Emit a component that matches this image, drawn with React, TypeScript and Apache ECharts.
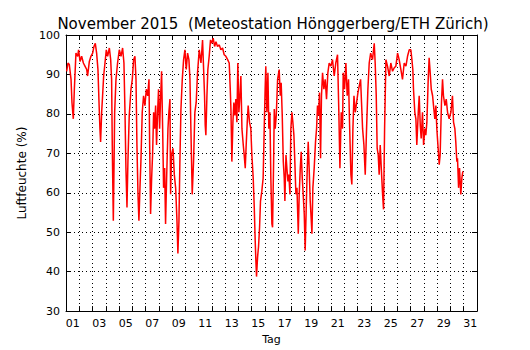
import React, { useEffect, useRef } from "react";
import * as echarts from "echarts";

const dayLabels: string[] = Array.from({ length: 31 }, (_, i) => String(i + 1).padStart(2, "0"));

// time in days since 1 Nov 2015 00:00
const timeDays: number[] = [
  0.05, 0.15, 0.25, 0.38, 0.45, 0.55, 0.63, 0.75, 0.88, 0.95,
  1.06, 1.18, 1.31, 1.43, 1.56, 1.63, 1.76, 1.88, 2.01, 2.11,
  2.21, 2.31, 2.41, 2.49, 2.56, 2.61, 2.69, 2.76, 2.84, 2.94,
  3.04, 3.14, 3.27, 3.37, 3.44, 3.49, 3.54, 3.57, 3.62, 3.67,
  3.77, 3.89, 4.02, 4.15, 4.27, 4.37, 4.45, 4.52, 4.6, 4.67,
  4.77, 4.9, 5.0, 5.1, 5.2, 5.28, 5.35, 5.43, 5.5, 5.58,
  5.65, 5.75, 5.85, 5.95, 6.06, 6.16, 6.26, 6.31, 6.38, 6.46,
  6.53, 6.61, 6.68, 6.76, 6.83, 6.91, 6.98, 7.06, 7.14, 7.21,
  7.29, 7.36, 7.44, 7.51, 7.59, 7.69, 7.76, 7.84, 7.89, 7.96,
  8.07, 8.17, 8.27, 8.37, 8.44, 8.52, 8.59, 8.67, 8.77, 8.87,
  8.97, 9.07, 9.17, 9.27, 9.35, 9.42, 9.52, 9.62, 9.72, 9.82,
  9.92, 10.05, 10.18, 10.3, 10.38, 10.45, 10.5, 10.55, 10.63, 10.7,
  10.8, 10.9, 11.0, 11.1, 11.21, 11.31, 11.43, 11.56, 11.68, 11.81,
  11.93, 12.06, 12.19, 12.31, 12.39, 12.44, 12.51, 12.59, 12.66, 12.74,
  12.81, 12.89, 12.96, 13.04, 13.12, 13.19, 13.27, 13.37, 13.44, 13.52,
  13.59, 13.67, 13.74, 13.84, 13.94, 14.02, 14.12, 14.2, 14.27, 14.32,
  14.37, 14.45, 14.52, 14.6, 14.67, 14.77, 14.87, 14.95, 15.02, 15.07,
  15.15, 15.23, 15.3, 15.38, 15.45, 15.53, 15.58, 15.66, 15.71, 15.78,
  15.86, 15.96, 16.08, 16.16, 16.23, 16.31, 16.39, 16.46, 16.51, 16.59,
  16.66, 16.74, 16.81, 16.89, 16.96, 17.04, 17.11, 17.19, 17.26, 17.34,
  17.42, 17.52, 17.59, 17.67, 17.74, 17.82, 17.89, 17.97, 18.04, 18.12,
  18.19, 18.27, 18.34, 18.42, 18.5, 18.55, 18.62, 18.72, 18.82, 18.9,
  18.97, 19.05, 19.12, 19.2, 19.27, 19.35, 19.45, 19.55, 19.65, 19.75,
  19.85, 19.98, 20.1, 20.23, 20.35, 20.48, 20.58, 20.66, 20.76, 20.86,
  20.91, 21.01, 21.11, 21.21, 21.31, 21.39, 21.49, 21.56, 21.64, 21.72,
  21.82, 21.92, 22.02, 22.12, 22.22, 22.29, 22.37, 22.47, 22.57, 22.67,
  22.77, 22.87, 22.98, 23.12, 23.25, 23.32, 23.4, 23.47, 23.55, 23.62,
  23.7, 23.78, 23.88, 23.95, 24.03, 24.13, 24.25, 24.38, 24.5, 24.63,
  24.76, 24.88, 25.01, 25.13, 25.26, 25.38, 25.51, 25.64, 25.76, 25.89,
  26.01, 26.09, 26.16, 26.21, 26.31, 26.39, 26.46, 26.57, 26.64, 26.72,
  26.79, 26.89, 26.97, 27.07, 27.14, 27.22, 27.32, 27.39, 27.47, 27.55,
  27.65, 27.72, 27.82, 27.9, 27.97, 28.07, 28.15, 28.22, 28.32, 28.4,
  28.47, 28.58, 28.68, 28.78, 28.9, 29.03, 29.15, 29.23, 29.33, 29.4,
  29.48, 29.53, 29.61, 29.68, 29.78, 29.86, 29.93,
];

const humidity: number[] = [
  90.8, 92.9, 92.5, 88.75, 82.9, 78.75, 86.25, 95.4, 94.6, 96.25,
  93.3, 94.6, 92.9, 92.1, 91.25, 89.6, 93.3, 94.6, 95.4, 97.1,
  97.9, 95.4, 91.25, 82.9, 76.25, 72.9, 80.4, 84.6, 89.6, 92.9,
  96.25, 94.6, 96.7, 93.75, 88.75, 72.1, 59.6, 52.9, 66.25, 80.4,
  88.75, 92.9, 96.25, 94.6, 96.7, 92.9, 80.4, 66.25, 56.25, 67.9,
  79.6, 86.25, 88.75, 93.75, 94.6, 88.75, 72.1, 59.6, 52.9, 61.25,
  67.9, 80.4, 84.6, 82.1, 86.25, 84.6, 88.75, 72.1, 54.6, 63.75,
  69.6, 80.4, 76.25, 82.1, 72.1, 80.4, 86.25, 76.25, 84.6, 90.8,
  76.25, 61.25, 66.25, 52.1, 63.75, 76.25, 80.4, 83.75, 59.6, 69.6,
  71.25, 64.6, 61.25, 52.9, 44.6, 52.9, 67.9, 81.25, 88.75, 93.75,
  96.25, 91.25, 95.4, 93.75, 88.75, 76.25, 59.6, 67.9, 80.4, 82.9,
  90.4, 96.25, 92.9, 98.75, 91.25, 84.6, 77.1, 74.6, 84.6, 91.25,
  94.6, 98.75, 97.9, 99.2, 97.1, 98.3, 97.1, 97.5, 96.25, 96.7,
  95, 94.6, 93.75, 92.9, 86.25, 81.25, 67.9, 77.9, 82.9, 79.6,
  83.75, 77.9, 92.9, 80.4, 84.6, 89.6, 76.25, 72.1, 69.6, 66.25,
  72.1, 77.9, 82.1, 77.9, 76.25, 69.6, 63.75, 56.25, 47.9, 42.9,
  38.75, 43.75, 46.25, 51.25, 57.9, 60.4, 63.75, 76.25, 86.25, 92.1,
  80.4, 90.4, 76.25, 80.4, 63.75, 52.1, 51.25, 67.9, 81.25, 76.25,
  79.6, 88.75, 91.25, 84.6, 87.9, 79.6, 67.9, 63.75, 57.9, 69.6,
  66.25, 62.9, 64.6, 59.6, 76.25, 80.4, 77.9, 74.6, 67.9, 59.6,
  61.25, 49.6, 59.6, 66.25, 70.4, 63.75, 59.6, 54.6, 45.4, 56.25,
  65.4, 72.9, 66.25, 57.9, 52.9, 49.6, 61.25, 66.25, 72.9, 76.25,
  82.1, 79.6, 85.4, 68.75, 84.6, 90.4, 86.25, 88.75, 83.75, 90.4,
  92.9, 92.1, 93.75, 89.6, 92.9, 95, 80.4, 66.25, 80.4, 76.25,
  90.4, 86.25, 92.9, 84.6, 88.75, 77.1, 64.6, 62.1, 76.25, 84.6,
  80.4, 82.9, 85.4, 87.1, 88.75, 82.9, 76.25, 72.1, 64.6, 76.25,
  86.25, 92.9, 95.4, 93.75, 97.9, 92.9, 84.6, 71.25, 69.6, 64.6,
  72.1, 66.25, 59.6, 55.8, 76.25, 93.75, 92.1, 89.6, 92.9, 90.8,
  91.7, 92.1, 95.4, 93.75, 91.25, 88.75, 92.9, 92.1, 94.6, 96.25,
  96.25, 93.75, 91.25, 86.25, 80.4, 78.75, 72.1, 80.4, 84.6, 77.1,
  73.75, 80.4, 72.1, 76.25, 74.6, 77.9, 88.75, 94.2, 90.4, 86.25,
  84.6, 82.1, 78.75, 82.1, 76.25, 71.25, 67.1, 69.6, 82.9, 88.75,
  84.6, 82.1, 83.75, 80.4, 78.75, 80.4, 84.6, 77.9, 76.25, 72.9,
  67.9, 68.75, 61.25, 66.25, 59.6, 63.75, 65.4,
];

const yTicks = { min: 30, max: 100, step: 10 };

const FONT = "DejaVu Sans";

export default function App() {
  const ref = useRef<HTMLDivElement>(null);

  useEffect(() => {
    if (!ref.current) return;
    const chart = echarts.init(ref.current, undefined, { renderer: "svg" });
    const data = timeDays.map((t, i) => [t, humidity[i]]);
    const dotted = { color: "#000", width: 1, type: [1, 3] as any };
    chart.setOption({
      animation: false,
      backgroundColor: "#fff",
      title: {
        text: "November 2015  (Meteostation Hönggerberg/ETH Zürich)",
        left: 268,
        top: 11,
        textAlign: "center",
        textStyle: { fontFamily: FONT, fontSize: 15, fontWeight: "normal", color: "#000" },
      },
      grid: { left: 66, right: 53, top: 35, bottom: 35, containLabel: false },
      xAxis: [
        {
          type: "category",
          position: "bottom",
          data: dayLabels,
          boundaryGap: true,
          name: "Tag",
          nameLocation: "middle",
          nameGap: 20,
          nameTextStyle: { fontFamily: FONT, fontSize: 11, color: "#000" },
          axisLine: { show: true, lineStyle: { color: "#000", width: 1 } },
          axisTick: { show: true, inside: true, interval: 0, length: 5, lineStyle: { color: "#000" } },
          axisLabel: { interval: 1, fontFamily: FONT, fontSize: 11, color: "#000", margin: 7 },
          splitLine: { show: true, interval: 0, lineStyle: dotted },
        },
        {
          type: "category",
          position: "top",
          data: dayLabels,
          boundaryGap: true,
          axisLine: { show: true, lineStyle: { color: "#000", width: 1 } },
          axisTick: { show: true, inside: true, interval: 0, length: 5, lineStyle: { color: "#000" } },
          axisLabel: { show: false },
          splitLine: { show: false },
        },
        {
          type: "value",
          min: 0,
          max: 31,
          show: false,
          splitLine: { show: false },
        },
      ],
      yAxis: [
        {
          type: "value",
          position: "left",
          min: yTicks.min,
          max: yTicks.max,
          interval: yTicks.step,
          name: "Luftfeuchte (%)",
          nameLocation: "middle",
          nameGap: 34,
          nameRotate: 90,
          nameTextStyle: { fontFamily: FONT, fontSize: 12, color: "#000" },
          axisLine: { show: true, lineStyle: { color: "#000", width: 1 } },
          axisTick: { show: true, inside: true, length: 5, lineStyle: { color: "#000" } },
          axisLabel: { fontFamily: FONT, fontSize: 11, color: "#000", margin: 6 },
          splitLine: { show: true, lineStyle: dotted },
        },
        {
          type: "value",
          position: "right",
          min: yTicks.min,
          max: yTicks.max,
          interval: yTicks.step,
          axisLine: { show: true, lineStyle: { color: "#000", width: 1 } },
          axisTick: { show: true, inside: true, length: 5, lineStyle: { color: "#000" } },
          axisLabel: { show: false },
          splitLine: { show: false },
        },
      ],
      series: [
        {
          type: "line",
          xAxisIndex: 2,
          yAxisIndex: 0,
          data,
          showSymbol: false,
          symbol: "none",
          lineStyle: { color: "#ff0000", width: 1.5 },
          z: 5,
        },
      ],
    });
    return () => chart.dispose();
  }, []);

  return (
    <div
      ref={ref}
      style={{ position: "fixed", left: 0, top: 0, width: 530, height: 350, background: "#fff" }}
    />
  );
}
